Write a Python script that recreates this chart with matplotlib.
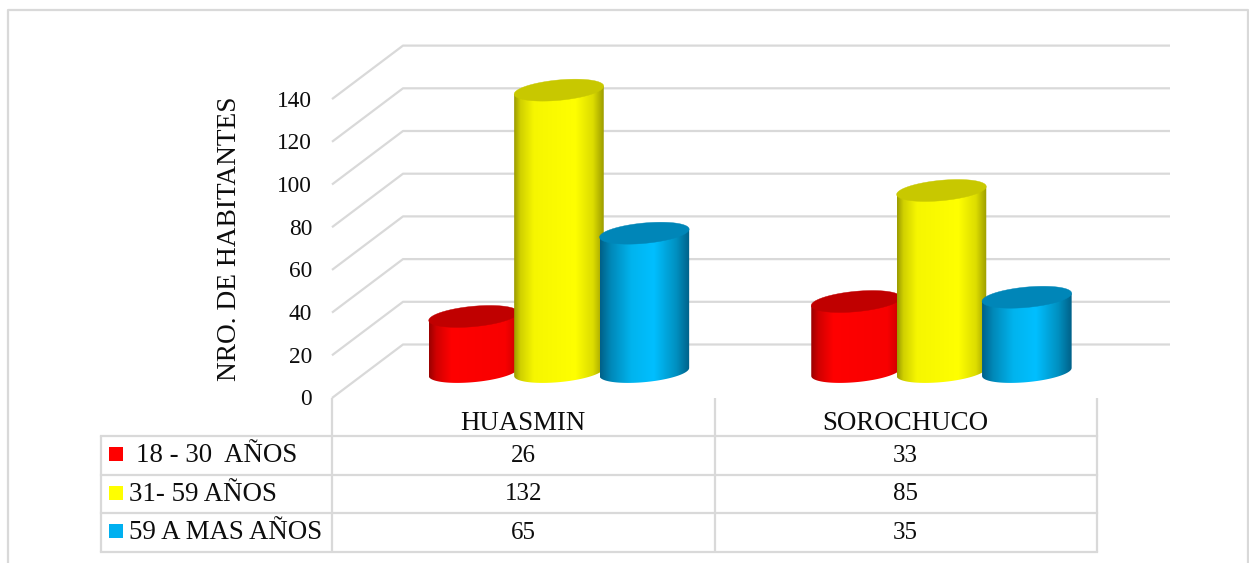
import matplotlib
matplotlib.use("Agg")
import matplotlib.pyplot as plt
from matplotlib.patches import Polygon, Rectangle
import numpy as np

plt.rcParams['font.family'] = ['Liberation Serif', 'DejaVu Serif']

categories = ["HUASMIN", "SOROCHUCO"]
series_names = ["18 - 30  AÑOS", "31- 59 AÑOS", "59 A MAS AÑOS"]
vals_18_30 = [26, 33]
vals_31_59 = [132, 85]
vals_59_mas = [65, 35]
y_ticks = [0, 20, 40, 60, 80, 100, 120, 140]
y_title = "NRO. DE HABITANTES"

W, H = 1249, 563
# one category = 382.5 px, one habitant = 2.135 px, origin at front corner
X0, Y0, XS, YS = 332, 398, 382.5, 2.135
GRID = "#D9D9D9"
TXT = "#0D0D0D"
FS = 19.4
FS_TICK = 16.8
FS_NUM = 18


def px(x):
    return (x - X0) / XS


def py(y):
    return (Y0 - y) / YS


fig = plt.figure(figsize=(W / 100, H / 100), dpi=100)
ax = fig.add_axes([0, 0, 1, 1])
ax.axis("off")

# walls of the 3d box
depth_x = 71 / XS
depth_y = 53.5 / YS
for t in y_ticks:
    ax.plot([0, depth_x, px(1170)], [t, t + depth_y, t + depth_y], color=GRID, lw=1.6, zorder=1,
            solid_capstyle="butt")
    ax.text(px(312), t - 0.9, str(t), ha="right", va="center", fontsize=FS_TICK, color=TXT)

ax.text(px(230), py(239), y_title, rotation=90, ha="center", va="center", fontsize=19.7, color=TXT)


# cylinders
def cylinder(cx, val, stops, top_col, z):
    a = 44.8 / XS
    b = 10.2 / YS
    s = 4.0 / YS
    base = 12.2
    top = base + val
    t = np.linspace(np.pi, 2 * np.pi, 60)
    low = np.column_stack([cx + a * np.cos(t), base + s * np.cos(t) + b * np.sin(t)])
    body = np.vstack([low, [[cx + a, top + s], [cx - a, top - s]]])
    poly = Polygon(body, closed=True, transform=ax.transData, fc="none", ec="none")
    ax.add_patch(poly)
    pos = np.linspace(0, 1, 256)
    cols = np.array([matplotlib.colors.to_rgb(c) for _, c in stops])
    grad = np.column_stack([np.interp(pos, [p for p, _ in stops], cols[:, i]) for i in range(3)])
    im = ax.imshow(grad[np.newaxis, :, :], extent=[cx - a, cx + a, base - b - s, top + s],
                   aspect="auto", zorder=z, interpolation="bilinear")
    im.set_clip_path(poly)
    t = np.linspace(0, 2 * np.pi, 120)
    cap = np.column_stack([cx + a * np.cos(t), top + s * np.cos(t) + b * np.sin(t)])
    ax.add_patch(Polygon(cap, closed=True, fc=top_col, ec=top_col, lw=0.3, zorder=z + 0.1))


red_stops = [(0, "#9A0000"), (0.08, "#D00000"), (0.25, "#FF0000"), (0.85, "#F80000"), (1, "#C80000")]
yel_stops = [(0, "#9A9A00"), (0.07, "#D0D000"), (0.22, "#F6F600"), (0.68, "#FFFF00"), (0.88, "#DCDC00"), (1, "#9C9C00")]
blu_stops = [(0, "#006088"), (0.12, "#0088B8"), (0.35, "#00B4EE"), (0.6, "#00BFFF"), (0.85, "#0090C0"), (1, "#006088")]
styles = [(vals_18_30, red_stops, "#C00000"),
          (vals_31_59, yel_stops, "#C8C800"),
          (vals_59_mas, blu_stops, "#0086B8")]

SHIFT = 35.7 / XS
STEP = 85.4 / XS
for i, (vals, stops, top_col) in enumerate(styles):
    for j, v in enumerate(vals):
        cylinder(j + 0.5 + SHIFT + (i - 1) * STEP, v, stops, top_col, 3 + i + j * 0.01)

# data table under the chart
row_lines = [436, 474.5, 513, 551.5]
for r in row_lines:
    ax.plot([px(101), px(1097)], [py(r), py(r)], color=GRID, lw=1.6, zorder=1, solid_capstyle="projecting")
for c in [0, 1, 2]:
    ax.plot([c, c], [py(398), py(551.5)], color=GRID, lw=1.6, zorder=1, solid_capstyle="butt")
ax.plot([px(101), px(101)], [py(436), py(551.5)], color=GRID, lw=1.6, zorder=1, solid_capstyle="butt")

for j, name in enumerate(categories):
    ax.text(j + 0.5, py(423), name, ha="center", va="center", fontsize=FS, color=TXT)

key_cols = ["#FF0000", "#FFFF00", "#00B0F0"]
label_x = [136, 129, 129]
for i, name in enumerate(series_names):
    mid = (row_lines[i] + row_lines[i + 1]) / 2
    ax.add_patch(Rectangle((px(109), py(mid + 5.8)), 14 / XS, 14 / YS, fc=key_cols[i], ec="none", zorder=3))
    ax.text(px(label_x[i]), py(mid + 0.5), name, ha="left", va="center", fontsize=FS, color=TXT)
    for j in range(len(categories)):
        ax.text(j + 0.5, py(mid + 0.7), str(styles[i][0][j]), ha="center", va="center", fontsize=FS_NUM, color=TXT)

# chart area border, cut off by the page at the bottom
ax.plot([px(8), px(8), px(1248), px(1248)], [py(563), py(10), py(10), py(563)], color=GRID, lw=1.6, zorder=1)

ax.set_xlim(px(0), px(W))
ax.set_ylim(py(H), py(0))
fig.savefig("out.png", dpi=100)
